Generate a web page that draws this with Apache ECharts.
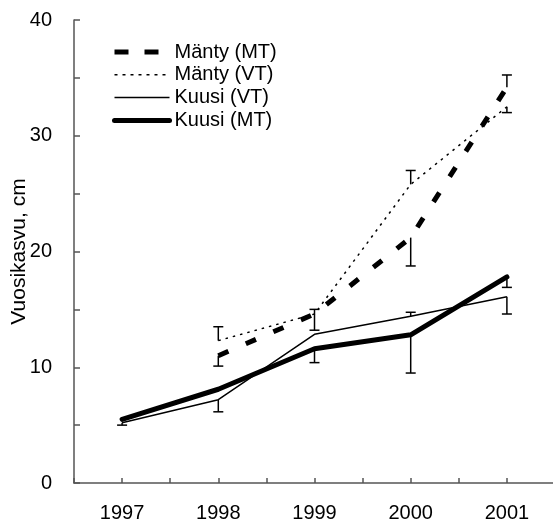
<!DOCTYPE html>
<html>
<head>
<meta charset="utf-8">
<script src="https://cdn.jsdelivr.net/npm/echarts@6/dist/echarts.min.js"></script>
<style>
html, body { margin: 0; padding: 0; background: #fff; }
#main { width: 553px; height: 524px; }
</style>
</head>
<body>
<div id="main"></div>
<script>
// data
var years = [1997, 1998, 1999, 2000, 2001];
var yTicks = [0, 10, 20, 30, 40];

var mantyMT = [null, 11.0, 14.6, 21.2, 34.2];
var mantyVT = [null, 12.3, 14.6, 25.8, 32.5];
var kuusiVT = [5.2, 7.2, 12.85, 14.4, 16.1];
var kuusiMT = [5.5, 8.1, 11.6, 12.8, 17.8];

// far end of each error bar (one-sided bars)
var mantyMTErr = [null, 10.1, 13.2, 18.75, 35.25];
var mantyVTErr = [null, 13.5, 15.0, 27.0, 32.0];
var kuusiVTErr = [5.0, 6.15, null, 14.75, 14.6];
var kuusiMTErr = [null, null, 10.4, 9.5, 16.9];

var FONT = '"Liberation Sans", Arial, sans-serif';

function pairs(vals) {
    var out = [];
    for (var i = 0; i < years.length; i++) {
        if (vals[i] != null) out.push([years[i], vals[i]]);
    }
    return out;
}

function errorData() {
    var out = [];
    var sets = [[mantyMT, mantyMTErr], [mantyVT, mantyVTErr], [kuusiVT, kuusiVTErr], [kuusiMT, kuusiMTErr]];
    sets.forEach(function (s) {
        for (var i = 0; i < years.length; i++) {
            if (s[0][i] != null && s[1][i] != null) out.push([years[i], s[0][i], s[1][i]]);
        }
    });
    return out;
}

var styles = {
    'Mänty (MT)': { color: '#000', width: 5, type: [11, 19], cap: 'butt' },
    'Mänty (VT)': { color: '#000', width: 1.5, type: [2.5, 5], cap: 'butt' },
    'Kuusi (VT)': { color: '#000', width: 1.5, type: 'solid', cap: 'butt' },
    'Kuusi (MT)': { color: '#000', width: 5, type: 'solid', cap: 'round' }
};
var legendStyles = {
    'Mänty (MT)': { color: '#000', width: 5, type: [14, 16], cap: 'butt' },
    'Mänty (VT)': { color: '#000', width: 1.5, type: [3, 5], cap: 'butt' },
    'Kuusi (VT)': { color: '#000', width: 1.5, type: 'solid', cap: 'butt' },
    'Kuusi (MT)': { color: '#000', width: 5, type: 'solid', cap: 'round' }
};

function lineSeries(name, vals) {
    return {
        name: name,
        type: 'line',
        data: pairs(vals),
        symbol: 'none',
        lineStyle: styles[name],
        itemStyle: { color: '#000' },
        z: 3
    };
}

var names = ['Mänty (MT)', 'Mänty (VT)', 'Kuusi (VT)', 'Kuusi (MT)'];

var myChart = echarts.init(document.getElementById('main'));
var option = {
    animation: false,
    textStyle: { fontFamily: FONT },
    grid: { left: 74, top: 20, width: 481, height: 463, outerBoundsMode: 'none', containLabel: false },
    legend: {
        orient: 'vertical',
        left: 112,
        top: 42,
        padding: 0,
        itemWidth: 55,
        itemHeight: 14,
        itemGap: 2.8,
        itemStyle: { opacity: 0 },
        textStyle: { fontFamily: FONT, fontSize: 20, color: '#000', lineHeight: 20 },
        data: names.map(function (n) {
            return { name: n, lineStyle: legendStyles[n] };
        })
    },
    xAxis: {
        type: 'value',
        min: 1996.5,
        max: 2001.5,
        interval: 0.5,
        splitLine: { show: false },
        axisLine: { lineStyle: { color: '#555', width: 1.5 } },
        axisTick: { inside: true, length: 5, lineStyle: { color: '#555', width: 1.5 } },
        axisLabel: {
            margin: 20,
            fontSize: 20,
            color: '#000',
            fontFamily: FONT,
            showMinLabel: true,
            showMaxLabel: true,
            formatter: function (v) {
                return years.indexOf(v) >= 0 ? String(v) : '';
            }
        }
    },
    yAxis: {
        type: 'value',
        min: 0,
        max: 40,
        interval: 5,
        name: 'Vuosikasvu, cm',
        nameLocation: 'middle',
        nameGap: 44,
        nameMoveOverlap: false,
        nameTextStyle: { fontSize: 21, color: '#000', fontFamily: FONT },
        splitLine: { show: false },
        axisLine: { show: true, lineStyle: { color: '#555', width: 1.5 } },
        axisTick: { show: true, inside: true, length: 6, lineStyle: { color: '#555', width: 1.5 } },
        axisLabel: {
            margin: 22,
            fontSize: 20,
            color: '#000',
            fontFamily: FONT,
            formatter: function (v) {
                return yTicks.indexOf(v) >= 0 ? String(v) : '';
            }
        }
    },
    series: [
        lineSeries('Mänty (MT)', mantyMT),
        lineSeries('Mänty (VT)', mantyVT),
        lineSeries('Kuusi (VT)', kuusiVT),
        lineSeries('Kuusi (MT)', kuusiMT),
        {
            name: 'err',
            type: 'custom',
            data: errorData(),
            encode: { x: 0, y: [1, 2] },
            z: 4,
            renderItem: function (params, api) {
                var x = api.value(0);
                var p0 = api.coord([x, api.value(1)]);
                var p1 = api.coord([x, api.value(2)]);
                var half = 5;
                var st = { stroke: '#000', lineWidth: 1.5 };
                return {
                    type: 'group',
                    children: [
                        { type: 'line', shape: { x1: p0[0], y1: p0[1], x2: p1[0], y2: p1[1] }, style: st },
                        { type: 'line', shape: { x1: p1[0] - half, y1: p1[1], x2: p1[0] + half, y2: p1[1] }, style: st }
                    ]
                };
            }
        }
    ]
};
myChart.setOption(option);
</script>
</body>
</html>
